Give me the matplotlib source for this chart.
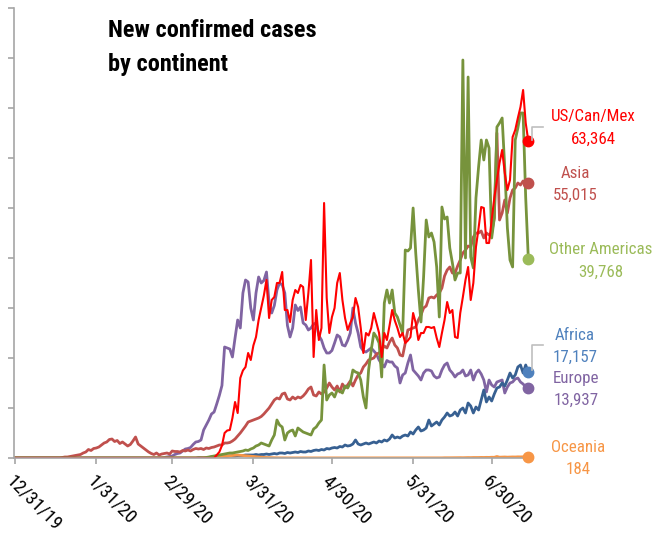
import matplotlib
matplotlib.use('Agg')
import matplotlib.pyplot as plt
import matplotlib.font_manager as fm
from matplotlib.lines import Line2D
import pandas as pd

# daily new confirmed cases, one value per day from 12/31/19
start_date = '2019-12-31'

us_can_mex = [
    0, 0, 0, 0, 0, 0, 0, 0, 0, 0, 0, 0, 0, 0, 0, 0, 0, 0, 0, 0,
    0, 0, 0, 0, 0, 0, 0, 0, 0, 0, 0, 0, 0, 0, 0, 0, 0, 0, 0, 0,
    0, 0, 0, 0, 0, 0, 0, 0, 0, 0, 0, 0, 0, 0, 0, 0, 0, 0, 0, 0,
    0, 0, 0, 0, 0, 0, 0, 0, 0, 0, 0, 0, 0, 0, 0, 0, 0,
    600, 1200, 2500, 5000, 5500, 5600, 8000, 11200, 9000, 16000,
    17500, 18200, 21000, 19600, 22500, 24200, 27600, 30000, 32500, 35600,
    28000, 31600, 32200, 35000, 35000, 37200, 29600, 29600, 27200, 31600,
    33600, 33000, 34600, 34200, 27600, 33000, 39600, 20200, 29600, 23600,
    26000, 51000, 32000, 25000, 28200, 30000, 35000, 37000, 31600, 28000,
    25600, 27000, 28200, 32000, 30200, 26000, 21000, 25000, 24500, 26000,
    29000, 27000, 25000, 20200, 25000, 23600, 26500, 29600, 27500, 26000,
    24200, 25000, 23000, 23500, 24200, 29000, 27000, 23600, 25000, 25000,
    26200, 26200, 26000, 26200, 24000, 22200, 25000, 27600, 31200, 29000,
    29600, 24200, 24000, 29000, 32200, 35600, 38200, 31600, 35000, 42200,
    46000, 50200, 50000, 43000, 43000, 47600, 52000, 55600, 59000, 61600,
    57000, 53600, 55600, 64200, 65600, 68000, 70200, 73600, 67000, 63364,
]

asia = [
    0, 0, 0, 0, 0, 0, 0, 0, 0, 0, 0, 0, 0, 0, 0, 0, 0, 0,
    100, 200, 200, 300, 400, 500, 600, 700, 1000, 1200, 1700, 1500,
    1900, 2000, 2200, 2600, 3000, 3200, 3700, 3800, 3300, 3500,
    2900, 3200, 2800, 2400, 2700, 3400, 4200, 2800, 2400, 2000,
    1600, 1200, 900, 700, 1000, 600, 800, 900, 1000, 800,
    1400, 1300, 1300, 1200, 1500, 1400, 1600, 1400, 1700, 1900,
    1800, 1900, 1700, 2000, 1900, 2100, 2200, 2400, 2600, 2600,
    3000, 3000, 3100, 3400, 3800, 4400, 5000, 5700, 6400, 7200,
    7400, 7600, 7800, 8000, 8300, 8800, 9400, 10000, 10800, 11600,
    12000, 11800, 12800, 13000, 11800, 11600, 12200, 11800, 12200, 12000,
    12400, 13000, 13800, 14200, 12600, 12400, 13200, 12800, 13200, 14000,
    15000, 14200, 13600, 14400, 13200, 14800, 14000, 14600, 15400, 14400,
    15600, 16600, 17000, 18200, 18800, 19600, 19800, 20000, 20800, 21000,
    21600, 22400, 22000, 23200, 24000, 22600, 22000, 20600, 20400, 23000,
    25600, 25800, 26000, 26200, 27600, 28600, 30000, 30400, 32000, 32200,
    32000, 32600, 33000, 34000, 36400, 37600, 38200, 37000, 37000, 38400,
    39600, 41000, 41600, 42400, 42200, 44200, 45000, 45000, 45400, 44000,
    45000, 44600, 45000, 48000, 65000, 47600, 49000, 51600, 49000, 52000,
    53600, 54000, 55000, 54600, 55400, 54800, 55015,
]

other_americas = [
    0, 0, 0, 0, 0, 0, 0, 0, 0, 0, 0, 0, 0, 0, 0, 0, 0, 0, 0, 0,
    0, 0, 0, 0, 0, 0, 0, 0, 0, 0, 0, 0, 0, 0, 0, 0, 0, 0, 0, 0,
    0, 0, 0, 0, 0, 0, 0, 0, 0, 0, 0, 0, 0, 0, 0, 0, 0, 0, 0, 0,
    0, 0, 0, 0, 0, 0, 0, 0, 0, 0, 0, 0, 0,
    100, 200, 300, 400, 500, 600, 700, 800, 900, 1000,
    1000, 1100, 1200, 1300, 1400, 1600, 1500, 1800, 2000, 2400,
    2600, 3000, 2800, 2600, 2400, 3600, 4600, 7600, 6600, 6200,
    3600, 5000, 5400, 5600, 4400, 6000, 5600, 5200, 5000, 4800,
    4600, 5800, 6200, 7000, 7600, 18600, 11600, 12600, 13000, 12200,
    13600, 13400, 13000, 14400, 14000, 15000, 17600, 17200, 17000, 15600,
    12200, 10000, 17600, 21600, 25000, 24200, 23000, 16200, 31000, 33600,
    31000, 33600, 29000, 28200, 26600, 25000, 41600, 41400, 42000, 50000,
    41000, 33600, 27200, 36200, 47600, 44200, 45000, 43200, 38200, 28200,
    50200, 47800, 48200, 42000, 39000, 35600, 37000, 37000, 79600, 40000,
    76200, 40200, 38000, 52000, 58200, 63600, 59600, 63600, 62000, 44000,
    48000, 66200, 67000, 68000, 58000, 46000, 39600, 38200, 63600, 66000,
    69000, 69000, 52000, 39768,
]

africa = [
    0, 0, 0, 0, 0, 0, 0, 0, 0, 0, 0, 0, 0, 0, 0, 0, 0, 0, 0, 0,
    0, 0, 0, 0, 0, 0, 0, 0, 0, 0, 0, 0, 0, 0, 0, 0, 0, 0, 0, 0,
    0, 0, 0, 0, 0, 0, 0, 0, 0, 0, 0, 0, 0, 0, 0, 0, 0, 0, 0, 0,
    0, 0, 0, 0, 0, 0, 0, 0, 0, 0,
    100, 100, 100, 100, 100, 200, 200, 200, 300, 300,
    300, 300, 400, 400, 400, 500, 500, 500, 600, 600,
    600, 600, 700, 600, 700, 700, 800, 700, 800, 900,
    800, 1000, 1000, 900, 1100, 1000, 1100, 1200, 1100, 1300,
    1200, 1200, 1400, 1300, 1500, 1600, 1500, 1700, 1600, 1900,
    1800, 2000, 2100, 2000, 2300, 2200, 2600, 2400, 2500, 2800,
    3600, 2800, 2600, 2800, 3000, 2800, 3000, 3200, 3000, 3400,
    3200, 3600, 3400, 3800, 4600, 4000, 4200, 4000, 4400, 4600,
    4400, 5200, 4800, 5600, 6200, 5400, 5600, 6000, 7600, 6400,
    6800, 7200, 6600, 7600, 8200, 9000, 8400, 8600, 9200, 8400,
    9600, 10000, 9000, 11000, 10400, 9000, 10200, 9600, 11600, 13600,
    11200, 12200, 11400, 12800, 14000, 14200, 15000, 14400, 15600, 17000,
    16000, 16600, 18200, 18600, 17000, 18600, 17157,
]

europe = [
    0, 0, 0, 0, 0, 0, 0, 0, 0, 0, 0, 0, 0, 0, 0, 0, 0, 0, 0, 0,
    0, 0, 0, 0, 0, 0, 0, 0, 0, 0, 0, 0, 0, 0, 0, 0, 0, 0, 0, 0,
    0, 0, 0, 0, 0, 0, 0, 0, 0, 0, 0, 0, 0, 0, 0, 0, 0,
    100, 200, 300, 400, 700, 900, 1000, 1400, 1800, 1900,
    2100, 2700, 3200, 3300, 3600, 5600, 6600, 7600, 8800, 9200,
    10800, 12500, 14500, 22200, 22000, 21800, 20200, 24000, 27600, 26000,
    33000, 35600, 35200, 30000, 27600, 33000, 36200, 35000, 35500, 37200,
    31000, 29000, 30500, 33600, 35000, 34600, 33000, 26500, 24200, 26000,
    30600, 29500, 30200, 27000, 26600, 25600, 26000, 26800, 27000, 24500,
    23600, 22000, 21000, 21000, 21500, 23000, 24600, 24200, 22600, 22400,
    23500, 25000, 30000, 27000, 25000, 22200, 21400, 21200, 21600, 22000,
    21400, 20800, 19600, 18800, 18200, 19500, 19200, 19200, 18400, 18000,
    15000, 16600, 17000, 19000, 20600, 17600, 17000, 16400, 15600, 17000,
    17600, 17600, 17400, 16400, 16000, 16200, 17600, 18600, 19000, 17600,
    17000, 16200, 16800, 17000, 17600, 16400, 16600, 17600, 15600, 17000,
    17600, 16800, 15600, 13200, 15600, 14600, 14200, 15200, 15400, 15600,
    13000, 14200, 15000, 15200, 15800, 16000, 15200, 14800, 14200, 13937,
]

oceania = [
    0, 0, 0, 0, 0, 0, 0, 0, 0, 0, 0, 0, 0, 0, 0, 0, 0, 0, 0, 0,
    0, 0, 0, 0, 0, 0, 0, 0, 0, 0, 0, 0, 0, 0, 0, 0, 0, 0, 0, 0,
    0, 0, 0, 0, 0, 0, 0, 0, 0, 0, 0, 0, 0, 0, 0, 0, 0, 0, 0, 0,
    0, 0, 0, 0, 0, 0, 0, 0, 0, 0,
    20, 30, 40, 60, 80, 100, 150, 200, 250, 300,
    350, 400, 450, 500, 550, 600, 550, 500, 450, 400,
    350, 300, 250, 200, 150, 120, 100, 80, 60, 50,
    40, 30, 30, 20, 30, 20, 20, 10, 20, 20, 30, 20, 20, 10, 20, 20, 10, 20, 20, 20,
    20, 10, 20, 30, 20, 20, 10, 20, 20, 20, 10, 20, 20, 10, 20, 20, 30, 20, 20, 20,
    10, 20, 20, 20, 10, 20, 20, 20, 30, 20, 20, 20, 20, 30, 20, 20, 30, 40, 30, 30,
    30, 40, 40, 30, 50, 40, 50, 60, 50, 60, 70, 60, 80, 90, 80, 100, 90, 100, 120, 110,
    130, 120, 150, 140, 300, 160, 180, 200, 170, 190, 210, 200, 230, 220, 240, 200, 184,
]

names = ['US/Can/Mex', 'Asia', 'Other Americas', 'Africa', 'Europe', 'Oceania']
last_values = ['63,364', '55,015', '39,768', '17,157', '13,937', '184']

tick_dates = ['2019-12-31', '2020-01-31', '2020-02-29', '2020-03-31',
              '2020-04-30', '2020-05-31', '2020-06-30']
tick_labels = ['12/31/19', '1/31/20', '2/29/20', '3/31/20', '4/30/20', '5/31/20', '6/30/20']

W, H = 655, 536


def find_narrow(bold):
    # look for an installed narrow / condensed sans font file
    order = ['Liberation Sans Narrow', 'Arial Narrow', 'Roboto Condensed', 'Noto Sans',
             'Noto Sans Condensed', 'DejaVu Sans', 'DejaVu Sans Condensed', 'Open Sans',
             'Open Sans Condensed', 'Liberation Sans']
    found = {}
    for f in fm.fontManager.ttflist:
        narrow = 'narrow' in f.name.lower() or 'condensed' in str(f.stretch) \
            or 'condensed' in f.name.lower()
        if not narrow or f.style != 'normal':
            continue
        try:
            w = int(f.weight)
        except (TypeError, ValueError):
            w = 700 if 'bold' in str(f.weight) else 400
        if bold and w < 600:
            continue
        if not bold and (w < 350 or w > 450):
            continue
        found.setdefault(f.name, f.fname)
    for name in order:
        if name in found:
            return fm.FontProperties(fname=found[name])
    if found:
        return fm.FontProperties(fname=sorted(found.values())[0])
    return fm.FontProperties(family=['Roboto', 'DejaVu Sans'],
                             weight='bold' if bold else 'normal')


regular = find_narrow(False)
bold = find_narrow(True)

fig = plt.figure(figsize=(W / 100, H / 100), dpi=100)
renderer = fig.canvas.get_renderer()


def fit_size(text, prop, target_px, max_size):
    # font size that makes the text about as wide as in the reference
    p = prop.copy()
    p.set_size(10)
    t = fig.text(0, 0, text, fontproperties=p)
    w = t.get_window_extent(renderer=renderer).width
    t.remove()
    return min(max_size, 10 * target_px / w)


title_size = fit_size('New confirmed cases', bold, 212, 17.5)
label_size = fit_size('Other Americas', regular, 102, 14)
tick_size = fit_size('12/31/19', regular, 70, 15)

ax = fig.add_axes([14 / W, 78 / H, 518 / W, 450 / H])

dates = pd.date_range(start_date, periods=len(us_can_mex))

# series: data, line colour, marker/label colour, line width
series = [
    (europe, '#8064A2', '#8064A2', 2.0),
    (africa, '#376092', '#4F81BD', 2.0),
    (oceania, '#F79646', '#F79646', 2.0),
    (asia, '#C0504D', '#C0504D', 2.0),
    (other_americas, '#77933C', '#9BBB59', 2.0),
    (us_can_mex, '#FF0000', '#FF0000', 1.5),
]
for values, line_col, dot_col, lw in series:
    ax.plot(dates, values, color=line_col, lw=lw, solid_joinstyle='round')
    ax.plot(dates[-1], values[-1], 'o', ms=7.5, color=dot_col, clip_on=False, zorder=5)

ax.set_ylim(0, 90000)
ax.set_yticks(range(0, 90001, 10000))
ax.set_yticklabels([])
ax.set_xlim(dates[0] - pd.Timedelta(hours=10), dates[0] + pd.Timedelta(days=197.4))
ax.set_xticks(pd.to_datetime(tick_dates))
tick_prop = regular.copy()
tick_prop.set_size(tick_size)
ax.set_xticklabels(tick_labels, rotation=-45, ha='left', va='top',
                   rotation_mode='anchor', fontproperties=tick_prop)

for side in ['top', 'right']:
    ax.spines[side].set_visible(False)
for side in ['left', 'bottom']:
    ax.spines[side].set_color('#A6A6A6')
    ax.spines[side].set_linewidth(1.2)
ax.tick_params(axis='both', direction='out', length=4, width=1.2, color='#A6A6A6')
ax.tick_params(axis='x', pad=6)

# title
title_prop = bold.copy()
title_prop.set_size(title_size)
fig.text(108 / W, 1 - 37 / H, 'New confirmed cases', fontproperties=title_prop, va='baseline')
fig.text(108 / W, 1 - 71 / H, 'by continent', fontproperties=title_prop, va='baseline')

# end labels (name, value) in pixel positions
label_prop = regular.copy()
label_prop.set_size(label_size)
label_pos = [(593, 117, 139), (575, 173, 195), (601, 249, 272),
             (575, 335, 357), (576, 378, 400), (578, 447, 469)]
label_cols = ['#FF0000', '#C0504D', '#9BBB59', '#4F81BD', '#8064A2', '#F79646']
for name, val, (x, y1, y2), col in zip(names, last_values, label_pos, label_cols):
    fig.text(x / W, 1 - y1 / H, name, color=col, fontproperties=label_prop,
             ha='center', va='center')
    fig.text(x / W, 1 - y2 / H, val, color=col, fontproperties=label_prop,
             ha='center', va='center')

# grey leader lines
for ys in [(140, 127), (370, 345)]:
    fig.add_artist(Line2D([532 / W, 532 / W, 543 / W],
                          [1 - ys[0] / H, 1 - ys[1] / H, 1 - ys[1] / H],
                          color='#BFBFBF', lw=1.2, transform=fig.transFigure))

plt.savefig('out.png', dpi=100)
plt.close()
